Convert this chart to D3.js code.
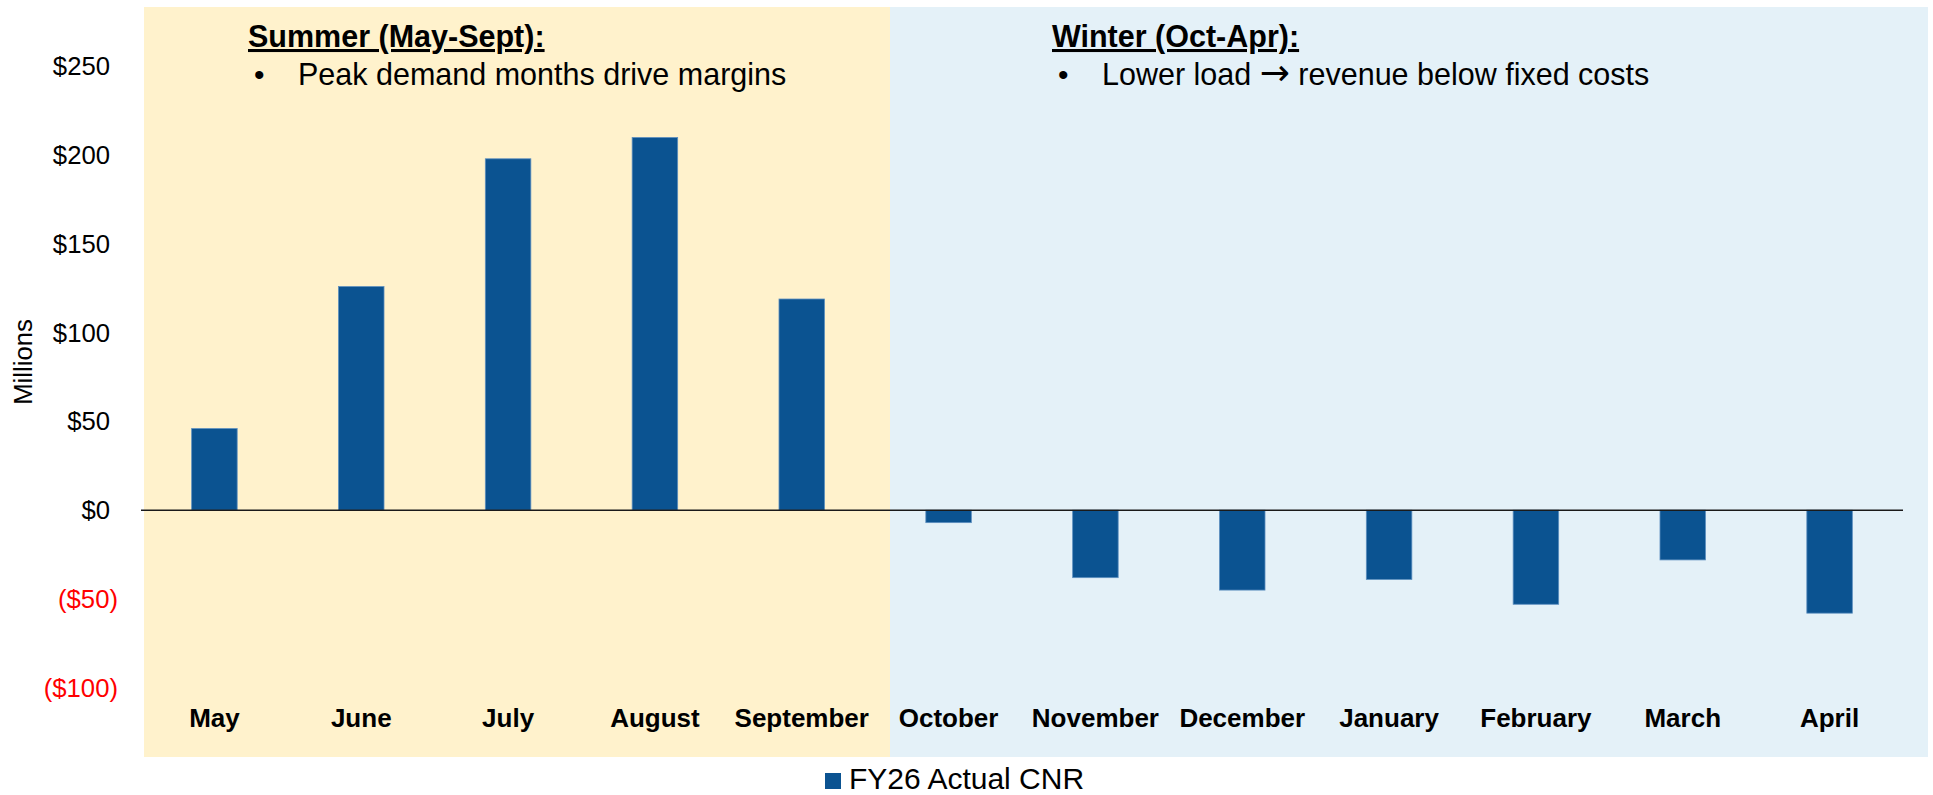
<!DOCTYPE html>
<html>
<head>
<meta charset="utf-8">
<script src="https://cdn.jsdelivr.net/npm/d3@7"></script>
<style>
  body { margin: 0; background: #fff; }
  svg { display: block; font-family: Arial, "Liberation Sans", sans-serif; }
</style>
</head>
<body>
<div id="chart"></div>
<script>
// months and FY26 actual CNR ($ millions)
var months = ["May", "June", "July", "August", "September", "October",
              "November", "December", "January", "February", "March", "April"];
var cnr = [46, 126, 198, 210, 119, -7, -38, -45, -39, -53, -28, -58];
var yTicks = [-100, -50, 0, 50, 100, 150, 200, 250];
var seasons = [
  { name: "Summer (May-Sept):", note: ["Peak demand months drive margins"] },
  { name: "Winter (Oct-Apr):", note: ["Lower load ", "\u2192", " revenue below fixed costs"] }
];
var seriesName = "FY26 Actual CNR";

var width = 1933, height = 795;
var plot = { left: 141, right: 1903, top: 66.5, bottom: 687.7 };

var svg = d3.select("#chart").append("svg")
    .attr("width", width)
    .attr("height", height);

var x = d3.scaleBand()
    .domain(months)
    .range([plot.left, plot.right])
    .paddingInner(0.69)
    .paddingOuter(0.345);

var y = d3.scaleLinear()
    .domain([-100, 250])
    .range([plot.bottom, plot.top]);

// season backgrounds
var bgColors = ["#fff2cc", "#e4f1f8"];
var split = 890;
svg.append("rect")
    .attr("x", 144).attr("y", 7)
    .attr("width", split - 144).attr("height", 750)
    .attr("fill", bgColors[0]);
svg.append("rect")
    .attr("x", split).attr("y", 7)
    .attr("width", 1928 - split).attr("height", 750)
    .attr("fill", bgColors[1]);

// season notes
var noteX = [248, 1052];
seasons.forEach(function(s, i) {
  svg.append("text")
      .attr("x", noteX[i]).attr("y", 47)
      .style("font-size", "30.5px")
      .style("font-weight", "bold")
      .style("text-decoration", "underline")
      .text(s.name);
  svg.append("text")
      .attr("x", noteX[i] + 6).attr("y", 85)
      .style("font-size", "30px")
      .text("\u2022");
  var t = svg.append("text")
      .attr("x", noteX[i] + 50).attr("y", 85)
      .style("font-size", "30.5px");
  s.note.forEach(function(part) {
    var sp = t.append("tspan").attr("xml:space", "preserve").text(part);
    if (part === "\u2192") sp.style("font-size", "36px").attr("font-family", "DejaVu Sans");
  });
});

// bars
svg.selectAll(".bar")
    .data(cnr)
  .enter().append("rect")
    .attr("class", "bar")
    .attr("x", function(d, i) { return x(months[i]); })
    .attr("width", x.bandwidth())
    .attr("y", function(d) { return y(Math.max(0, d)); })
    .attr("height", function(d) { return Math.abs(y(d) - y(0)); })
    .attr("fill", "#0b5391")
    .attr("stroke", "#5d8fbf")
    .attr("stroke-width", 0.8);

// zero line
svg.append("line")
    .attr("x1", plot.left).attr("x2", plot.right)
    .attr("y1", y(0)).attr("y2", y(0))
    .attr("stroke", "#1a1a1a")
    .attr("stroke-width", 1.6);

// y axis labels
svg.selectAll(".ytick")
    .data(yTicks)
  .enter().append("text")
    .attr("class", "ytick")
    .attr("x", function(d) { return d < 0 ? 118 : 110; })
    .attr("y", function(d) { return y(d); })
    .attr("dy", "0.35em")
    .attr("text-anchor", "end")
    .attr("fill", function(d) { return d < 0 ? "#ff0000" : "#000"; })
    .style("font-size", "25.7px")
    .text(function(d) { return d < 0 ? "($" + Math.abs(d) + ")" : "$" + d; });

svg.append("text")
    .attr("transform", "translate(32,362) rotate(-90)")
    .attr("text-anchor", "middle")
    .style("font-size", "25.7px")
    .text("Millions");

// x labels
svg.selectAll(".xlabel")
    .data(months)
  .enter().append("text")
    .attr("class", "xlabel")
    .attr("x", function(d) { return x(d) + x.bandwidth() / 2; })
    .attr("y", 727)
    .attr("text-anchor", "middle")
    .style("font-size", "26px")
    .style("font-weight", "bold")
    .text(function(d) { return d; });

// legend
svg.append("rect")
    .attr("x", 825).attr("y", 773)
    .attr("width", 16).attr("height", 16)
    .attr("fill", "#0b5391");
svg.append("text")
    .attr("x", 849).attr("y", 789)
    .style("font-size", "30px")
    .text(seriesName);
</script>
</body>
</html>
